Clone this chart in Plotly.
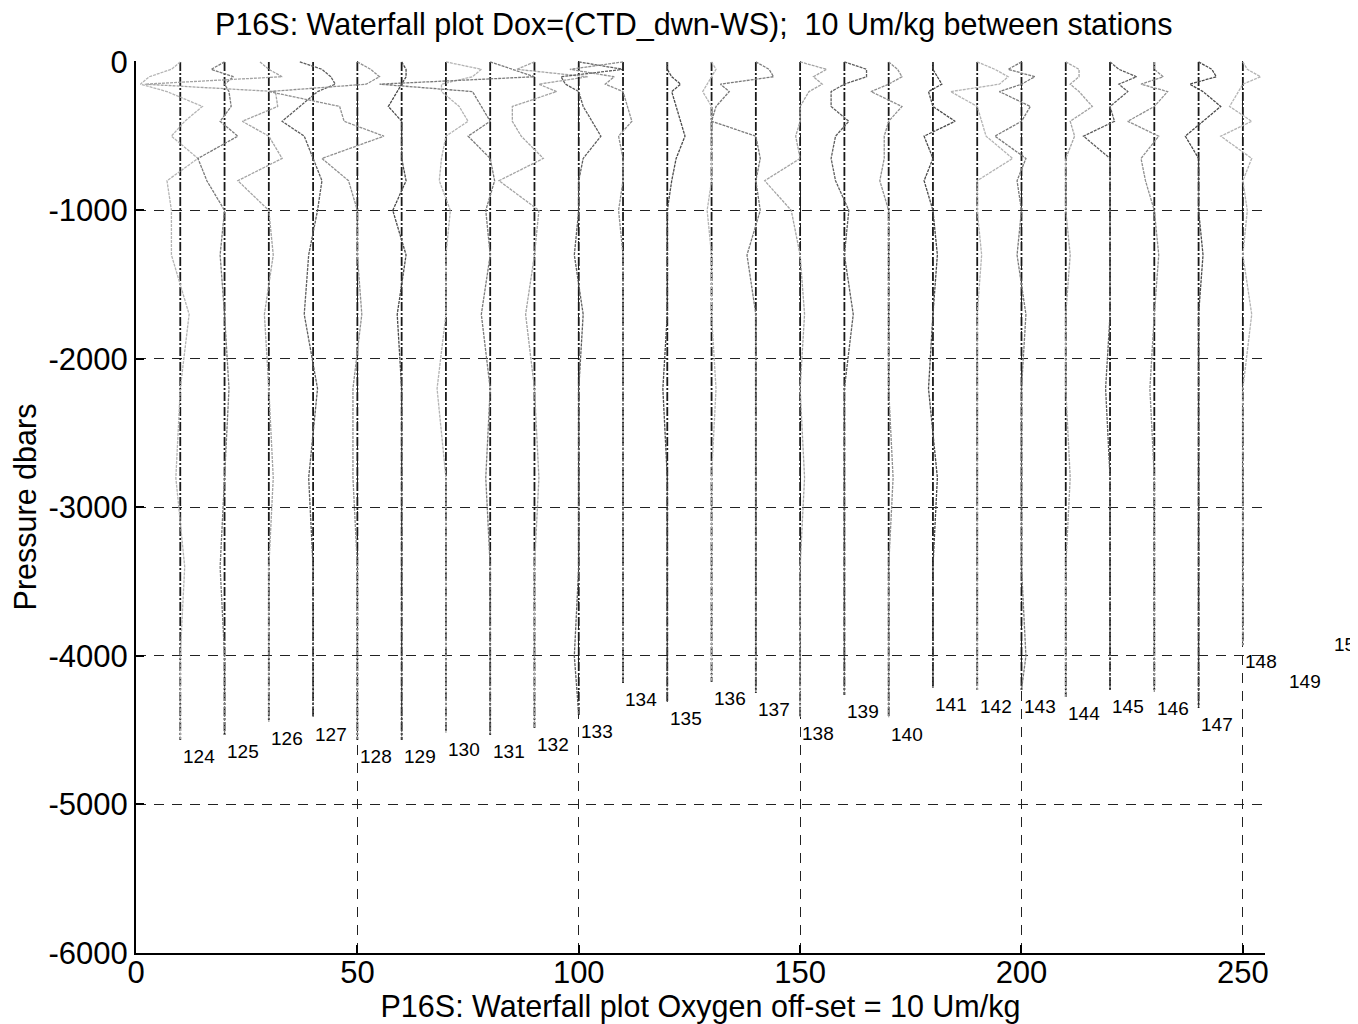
import plotly.graph_objects as go

# ---------------- data ----------------
stations = list(range(124, 151))
offset_umkg = 10  # Um/kg between stations

# depth (dbar) where each station profile ends
bottom_dbar = [4566, 4532, 4444, 4418, 4566, 4566, 4519, 4532, 4485, 4397,
               4182, 4310, 4175, 4249, 4411, 4263, 4418, 4215, 4229, 4229,
               4276, 4229, 4242, 4350, 3930, 4060, 3810]

# pressure levels (dbar) at which the oxygen difference is read
levels_dbar = [0, 50, 100, 150, 200, 300, 400, 500, 650, 800,
               1000, 1300, 1700, 2200, 2800, 3400, 4000]

# Dox = CTD_dwn - WS (Um/kg), one row per station
dox_124 = [0, -2, -7, -9, -3, 5, 1, -2, 4, -3, -2, -2, 2, 0, -1, 1, 0]
dox_125 = [0, -3, 2, 0, 1, 1.5, -1, 3, -6, -4, 0, -1, 0, 1, 0, -1, 0]
dox_126 = [-2, 0, 3, -28, 1.5, 2, -6, 0, 3, -7, 0, 1, -1, 0, 1, 0, 0]
dox_127 = [-3, 2, 4, 5, 1, -3, -7, -2, 0, 2, 1, -1, -2, 1, -1, 0, 0]
dox_128 = [0, 3, 5, 2, -20, -4, -3, 6, -8, -2, 0, 0, 1, -1, -1, 0, 0]
dox_129 = [0, 1, 1, 0, -1, -3, 0, 0, 0, 1, -2, 1, -1, 0, 0, 0, 0]
dox_130 = [0, 8, 6, -1, -1, 3, 5, 0, -1, -1.5, 1, 0, 0, -2, 0, 0, 0]
dox_131 = [0, 5, 10, -25, -4, -2, 0, -5, 0, 1, -1, 0, -2, 0, -1, 0, 0]
dox_132 = [0, -4, 12, 1, 5, -5, -5, -3, 2, -8, 1, 0, -2, 0, 1, 0, 0]
dox_133 = [0, 10, -4, -3, 0, 1, 3, 5, 1, 0, 0, -1, 1, 0, 0, 0, -1]
dox_134 = [0, -12, -2, -4, 0, 1, 2, -1, 0, 0, -1, 0, 0, 0, 0, 0, 0]
dox_135 = [0, 0, 1, 3, 1, 2, 3, 4, 2, 1, 0, 0, 0, -1, 0, 0, 0]
dox_136 = [0, 1, 0, -1, -2, 0, 0, 0, 0, 0, -1, 0, 0, 1, 0, 0, 0]
dox_137 = [0, 3, 4, -8, -6, -9, -10, 0, 1, 0, 1, -2, 0, 0, 0, 0, 0]
dox_138 = [0, 6, 3, 5, 2, 0, 0, -1, 0, -8, -2, 0, 1, 0, 1, 0, 0]
dox_139 = [0, 5, 5, 0, -3, -3, 1, -2, -3, -2, 1, 0, 2, 0, 0, 0, 0]
dox_140 = [0, 2, 3, 0, -4, 3, 0, -1, -1, -2, 0, 0, 0, 0, 1, 0, 0]
dox_141 = [0, 0, 1, 2, -1, 0, 5, -2, 0, -2, 0, 1, 0, -1, 1, 0, 0]
dox_142 = [0, 4, 7, 5, -6, 0, 1, 2, 8, 0, 0, 1, 0, 0, 0, 0, 0]
dox_143 = [0, -3, 3, 0, -5, 2, 0, -6, 1, -1, 0, -1, 1, 0, 0, 0, 1]
dox_144 = [0, 3, 3, 1, 3, 6, 1, 2, 0, 0, 0, 1, 0, 0, 1, 0, 0]
dox_145 = [0, 2, 6, 2, 4, 0, 1, -6, 0, 0, 0, 0, 0, -1, 0, 0, 0]
dox_146 = [0, 0, 2, -3, 3, 0, -6, 1, -3, -2, 0, 1, 0, -1, 0, 0, 0]
dox_147 = [0, 3, 4, -2, 1, 5, 1, -3, 0, 0, 0, 1, 0, 0, 0, 0, 0]
dox_148 = [0, 1, 4, 0, -1, -3, 2, -5, 2, 0, 1, 0, 2, 0, 0, 0, 0]
dox_149 = [0, -1, 2, 1, -2, 1, 0, -1, 0, 0, 0, 0, 0, 0, 0, 0, 0]
dox_150 = [0, 1, -1, 2, 0, -1, 1, 0, 0, 0, 0, 0, 0, 0, 0, 0, 0]

dox_rows = [dox_124, dox_125, dox_126, dox_127, dox_128, dox_129, dox_130,
            dox_131, dox_132, dox_133, dox_134, dox_135, dox_136, dox_137,
            dox_138, dox_139, dox_140, dox_141, dox_142, dox_143, dox_144,
            dox_145, dox_146, dox_147, dox_148, dox_149, dox_150]

x_tick_vals = [0, 50, 100, 150, 200, 250]
x_tick_text = ["0", "50", "100", "150", "200", "250"]
y_tick_vals = [0, -1000, -2000, -3000, -4000, -5000, -6000]
y_tick_text = ["0", "-1000", "-2000", "-3000", "-4000", "-5000", "-6000"]

# ---------------- styles ----------------
FONT = "Liberation Sans, Arial, Helvetica, sans-serif"
profile_grays = ["#b4b4b4", "#7a7a7a", "#a4a4a4", "#5e5e5e", "#909090", "#4a4a4a"]
label_gap_dbar = 110
X_RANGE = [0, 255]
Y_RANGE = [-6000, 6]

fig = go.Figure()

for i, st in enumerate(stations):
    x0 = offset_umkg * (st - stations[0] + 1)
    bot = bottom_dbar[i]
    row = dox_rows[i]
    # zero reference line of the station
    fig.add_trace(go.Scatter(
        x=[x0, x0], y=[0, -bot], mode="lines",
        line=dict(color="#1a1a1a", width=1.8, dash="9px,2px,2px,2px"),
        hoverinfo="skip", showlegend=False))
    # profile
    px, py = [], []
    for p, v in zip(levels_dbar, row):
        if p < bot:
            px.append(x0 + v)
            py.append(-p)
    px.append(x0)
    py.append(-bot)
    fig.add_trace(go.Scatter(
        x=px, y=py, mode="lines",
        line=dict(color=profile_grays[i % len(profile_grays)], width=1.3, dash="3px,1px"),
        showlegend=False, name=str(st)))

# station labels (as annotations so those beyond the x range stay visible,
# like the unclipped text of the original)
for i, st in enumerate(stations):
    x0 = offset_umkg * (st - stations[0] + 1)
    frac = (x0 + 0.3 - X_RANGE[0]) / (X_RANGE[1] - X_RANGE[0])
    fig.add_annotation(
        x=frac, xref="paper", y=-(bottom_dbar[i] + label_gap_dbar), yref="y",
        text=str(st), showarrow=False, xanchor="left", yanchor="middle",
        font=dict(family=FONT, size=19, color="black"), borderpad=0)

axis_common = dict(
    showline=True, linecolor="black", linewidth=2,
    ticks="inside", ticklen=8, tickwidth=1.5, tickcolor="black",
    showgrid=True, gridcolor="#222222", gridwidth=1, griddash="10px,8px",
    zeroline=False, mirror=False, automargin=False,
    tickfont=dict(family=FONT, size=31, color="black"),
)

fig.update_xaxes(
    range=X_RANGE, tickmode="array", tickvals=x_tick_vals, ticktext=x_tick_text,
    ticklabelstandoff=-9,
    title=dict(text="P16S: Waterfall plot Oxygen off-set = 10 Um/kg",
               font=dict(family=FONT, size=30.5, color="black"), standoff=2),
    **axis_common)
fig.update_yaxes(
    range=Y_RANGE, tickmode="array", tickvals=y_tick_vals, ticktext=y_tick_text,
    title=dict(text="Pressure dbars",
               font=dict(family=FONT, size=30.5, color="black"), standoff=4),
    **axis_common)

# the page body adds an 8px margin, so the figure is 8px smaller than the window
fig.update_layout(
    width=1350, height=1016,
    margin=dict(l=128, r=93, t=53, b=71),
    paper_bgcolor="white", plot_bgcolor="white",
    title=dict(text="P16S: Waterfall plot Dox=(CTD_dwn-WS);  10 Um/kg between stations",
               x=0.508, xanchor="center", y=1 - 16 / 1016, yanchor="middle",
               font=dict(family=FONT, size=30.5, color="black")),
    showlegend=False,
)

fig.write_html("out.html")
